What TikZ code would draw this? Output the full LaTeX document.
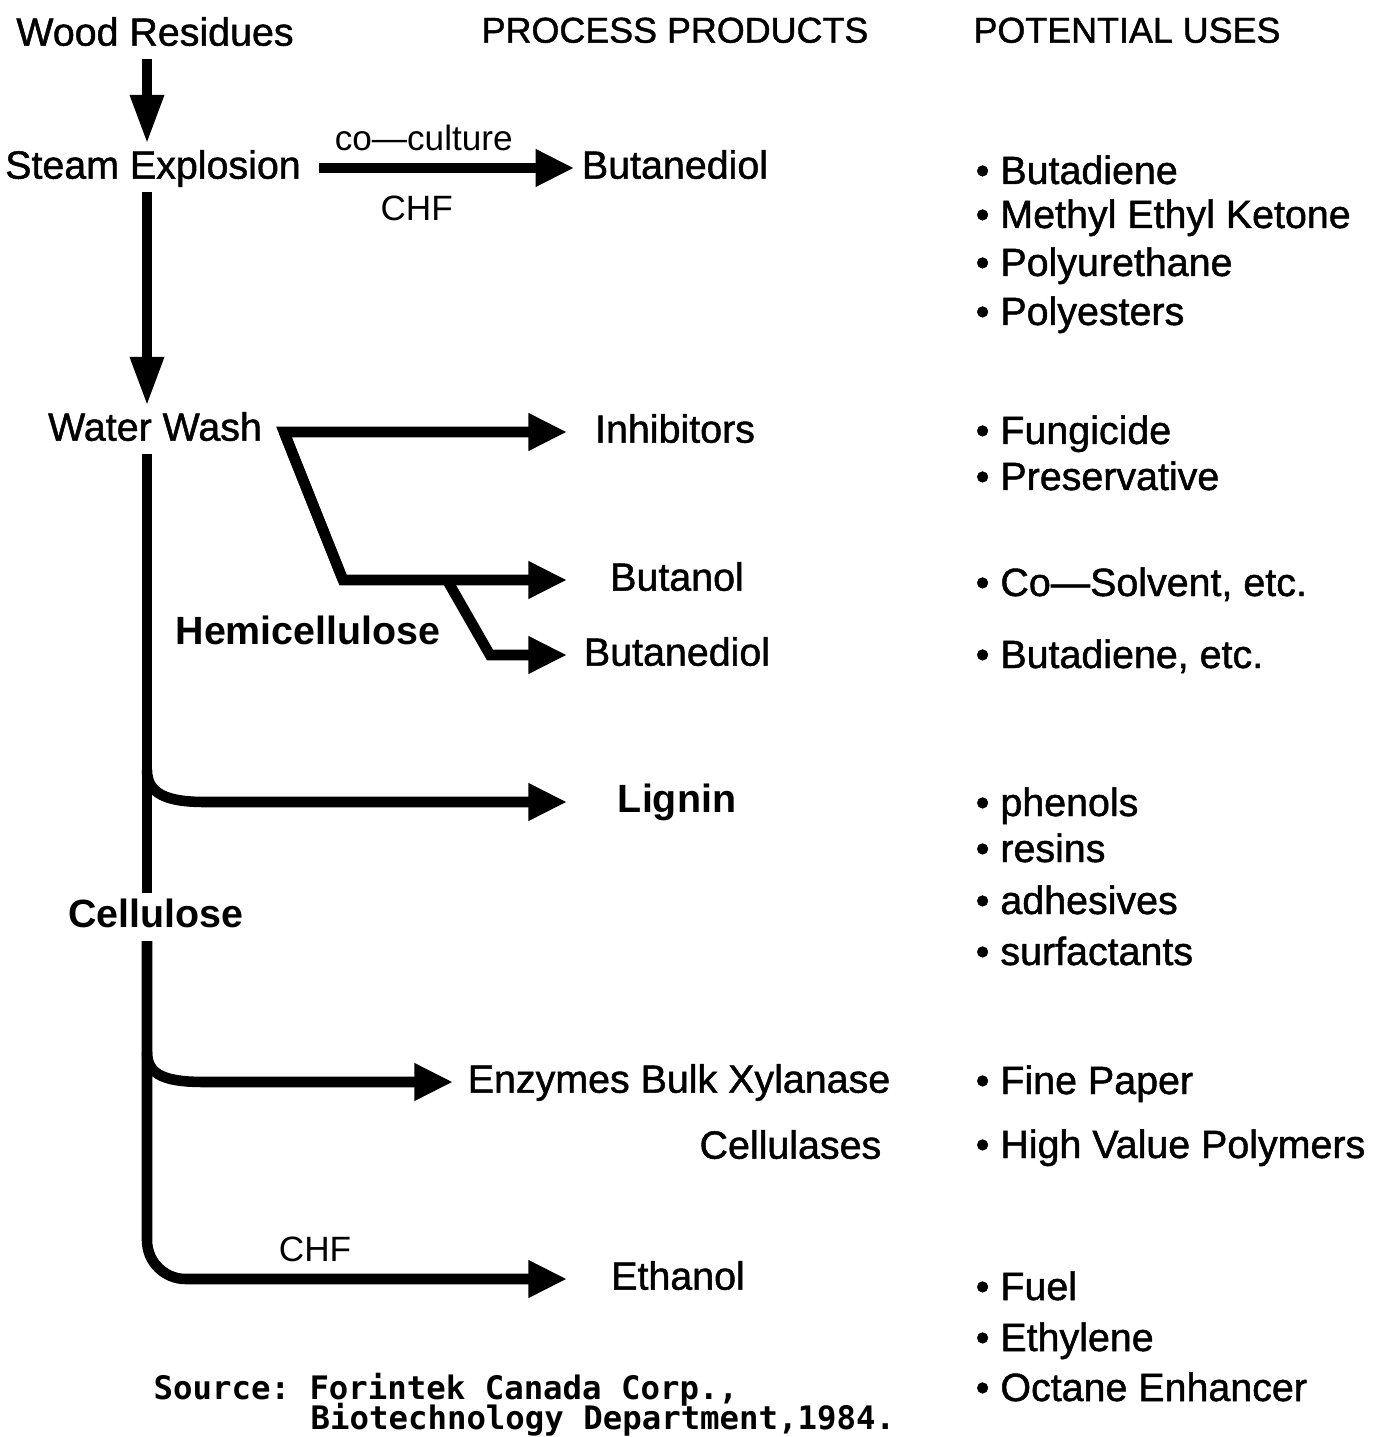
\documentclass[tikz,border=0pt]{standalone}
\usepackage{fontspec}
\setmainfont{Liberation Sans}
\setmonofont{DejaVu Sans Mono}
\newfontfamily\scanfont[Ligatures=TeX, FakeBold=1.2]{Liberation Sans}
\usetikzlibrary{arrows.meta, positioning}

\begin{document}
\begin{tikzpicture}[x=0.01cm, y=-0.01cm,
          lbl/.style={inner sep=2pt, text height=1.45ex, text depth=0.3ex,
                      font=\fontsize{11.2}{13}\selectfont\scanfont},
          hd/.style={lbl, font=\fontsize{10.2}{12}\selectfont\scanfont},
          bl/.style={lbl, font=\fontsize{11.2}{13}\selectfont\bfseries},
          use/.style={inner sep=0pt, anchor=base west, font=\fontsize{11.2}{13}\selectfont\scanfont},
          src/.style={inner sep=0pt, anchor=base west, font=\fontsize{9.2}{11}\ttfamily\bfseries},
          ln/.style={line width=3pt},
          arr/.style={ln, -{Triangle[length=11pt, width=10pt]}},
          varr/.style={ln, -{Triangle[length=14pt, width=9pt]}}
        ]
        \useasboundingbox (0,0) rectangle (1380,1437);

        % column headings
        \node[lbl] (wood) at (155,35)  {Wood Residues};
        \node[hd]  (prod) at (675,32)  {PROCESS PRODUCTS};
        \node[hd]  (uses) at (1127,32) {POTENTIAL USES};

        % process chain
        \node[lbl] (steam)   at (153,168)  {Steam Explosion};
        \node[lbl] (bdiol)   at (675,168)  {Butanediol};
        \node[lbl] (wash)    at (155,430)  {Water Wash};
        \node[lbl] (inhib)   at (675,432)  {Inhibitors};
        \node[lbl] (butanol) at (677,580)  {Butanol};
        \node[lbl] (bdiol2)  at (677,655)  {Butanediol};
        \node[bl]  (hemi)    at (308,634)  {Hemicellulose};
        \node[bl]  (lignin)  at (677,802)  {Lignin};
        \node[bl]  (cell)    at (156,917)  {Cellulose};
        \node[lbl] (enz)     at (679,1082) {Enzymes Bulk Xylanase};
        \node[lbl, anchor=east] (cellul) at (889,1148) {Cellulases};
        \node[lbl] (ethanol) at (678,1279) {Ethanol};

        \coordinate (trunk) at (147,0);
        \coordinate (tips)  at (567,0);
        \coordinate (turn)  at (205,0);
        \coordinate (fork)  at (284,432);
        \coordinate (hbend) at (343,580);
        \coordinate (split) at (447,580);
        \coordinate (knee)  at (490,655);
        \coordinate (lgbr)  at (147,770);
        \coordinate (enzbr) at (147,1052);

        \draw[varr] (wood.south -| trunk) -- (steam.north -| trunk);
        \draw[arr, shorten <=3pt] (steam.east) -- (bdiol.west)
              node[midway, above, xshift=-5pt] {co---culture}
              node[midway, below, xshift=-7pt, yshift=-3pt] {CHF};
        \draw[varr] (steam.south -| trunk) -- (wash.north -| trunk);

        \draw[arr] (hbend) -- (fork) -- (inhib.west -| tips);
        \draw[arr] (fork) -- (hbend) -- (butanol.west -| tips);
        \draw[arr] (split) -- (knee) -- (bdiol2.west -| tips);

        \draw[ln] (wash.south -| trunk) -- (cell.north -| trunk);
        \draw[arr] (lgbr) .. controls +(0,24) and +(-38,0) .. (lignin.west -| turn)
              -- (lignin.west -| tips);
        \draw[arr, shorten >=2pt] (enzbr) .. controls +(0,24) and +(-38,0) .. (enz.west -| turn)
              -- (enz.west);
        \draw[arr, rounded corners=11pt] (cell.south -| trunk) |- (ethanol.west -| tips)
              node[pos=0.7, above] {CHF};

        % potential uses
        \node[use] (u1)  at (975,184)  {\textbullet\ Butadiene};
        \node[use] (u2)  at (975,228)  {\textbullet\ Methyl Ethyl Ketone};
        \node[use] (u3)  at (975,276)  {\textbullet\ Polyurethane};
        \node[use] (u4)  at (975,325)  {\textbullet\ Polyesters};
        \node[use] (u5)  at (975,444)  {\textbullet\ Fungicide};
        \node[use] (u6)  at (975,490)  {\textbullet\ Preservative};
        \node[use] (u7)  at (975,596)  {\textbullet\ Co---Solvent, etc.};
        \node[use] (u8)  at (975,668)  {\textbullet\ Butadiene, etc.};
        \node[use] (u9)  at (975,816)  {\textbullet\ phenols};
        \node[use] (u10) at (975,862)  {\textbullet\ resins};
        \node[use] (u11) at (975,914)  {\textbullet\ adhesives};
        \node[use] (u12) at (975,965)  {\textbullet\ surfactants};
        \node[use] (u13) at (975,1094) {\textbullet\ Fine Paper};
        \node[use] (u14) at (975,1158) {\textbullet\ High Value Polymers};
        \node[use] (u15) at (975,1300) {\textbullet\ Fuel};
        \node[use] (u16) at (975,1351) {\textbullet\ Ethylene};
        \node[use] (u17) at (975,1401) {\textbullet\ Octane Enhancer};

        % source
        \node[src] (src1) at (153,1399) {Source: Forintek Canada Corp.,};
        \node[src] (src2) at (310,1429) {Biotechnology Department,1984.};
      \end{tikzpicture}
\end{document}
